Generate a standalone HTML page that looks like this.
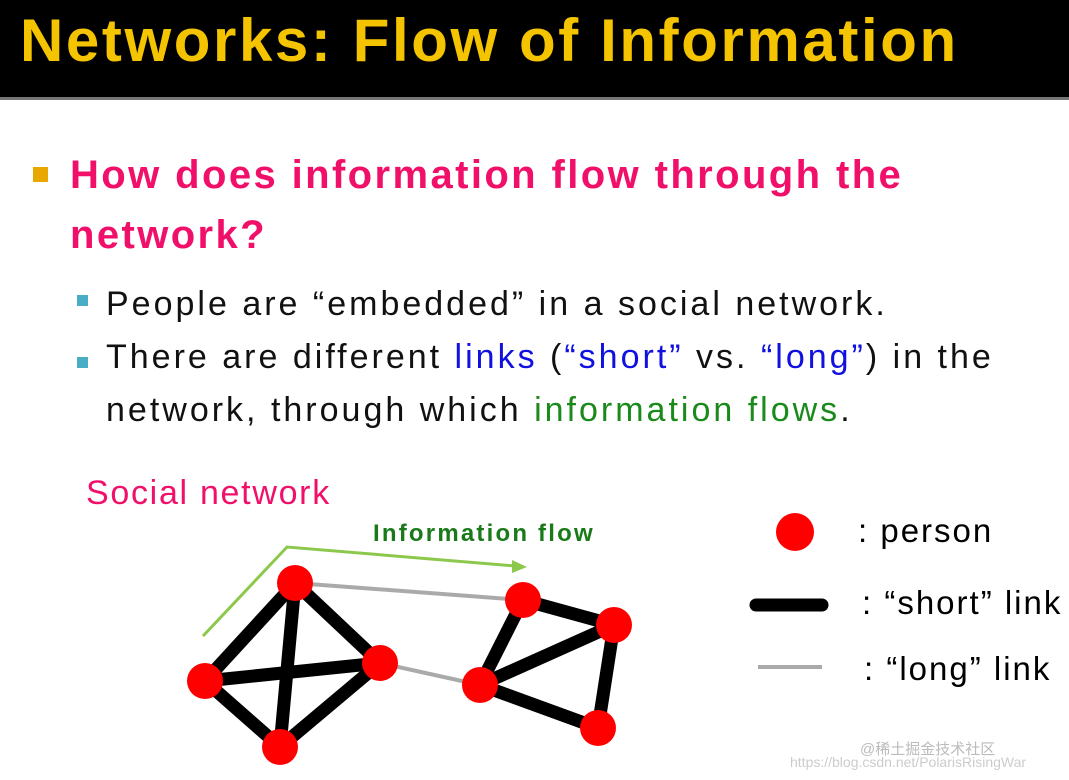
<!DOCTYPE html>
<html><head><style>
body{margin:0;width:1069px;height:780px;background:#fff;position:relative;overflow:hidden;font-family:"Liberation Sans",sans-serif}
.bar{position:absolute;left:0;top:0;width:1069px;height:97px;background:#000;border-bottom:3px solid #777}
.t{position:absolute;white-space:nowrap}
</style></head><body>
<div class="bar"></div>
<div class="t" style="left:20px;top:6px;font-size:60px;font-weight:bold;color:#f5c400;letter-spacing:2.6px">Networks: Flow of Information</div>
<div style="position:absolute;left:33px;top:167px;width:15px;height:15px;background:#e8a800"></div>
<div class="t" style="left:70px;top:145px;font-size:40px;font-weight:bold;color:#f0106a;line-height:60px;letter-spacing:2.4px">How does information flow through the<br>network?</div>
<div style="position:absolute;left:77px;top:295px;width:11px;height:11px;background:#4bacc6"></div>
<div style="position:absolute;left:77px;top:357px;width:11px;height:11px;background:#4bacc6"></div>
<div class="t" style="left:106px;top:278px;font-size:34px;color:#111;line-height:53px;letter-spacing:3px">People are “embedded” in a social network.<br>There are different <span style="color:#1010e0">links</span> (<span style="color:#1010e0">“short”</span> vs. <span style="color:#1010e0">“long”</span>) in the<br>network, through which <span style="color:#1a8a1a">information flows</span>.</div>
<div class="t" style="left:86px;top:474px;font-size:34px;color:#f0106a;letter-spacing:1.7px">Social network</div>
<div class="t" style="left:373px;top:520px;font-size:24px;font-weight:bold;color:#1a7a1a;letter-spacing:2.2px">Information flow</div>
<svg style="position:absolute;left:0;top:0" width="1069" height="780">
<polyline points="203,636 287,547 515,566" fill="none" stroke="#8cc84b" stroke-width="3"/>
<polygon points="527,567 512,560 512,573" fill="#8cc84b"/>
<g stroke="#aaa" stroke-width="4"><line x1="295" y1="583" x2="523" y2="600"/><line x1="380" y1="663" x2="480" y2="685"/></g>
<g stroke="#000" stroke-width="13">
<line x1="295" y1="583" x2="205" y2="681"/><line x1="295" y1="583" x2="380" y2="663"/><line x1="295" y1="583" x2="280" y2="747"/>
<line x1="205" y1="681" x2="380" y2="663"/><line x1="205" y1="681" x2="280" y2="747"/><line x1="380" y1="663" x2="280" y2="747"/>
<line x1="523" y1="600" x2="614" y2="625"/><line x1="523" y1="600" x2="480" y2="685"/><line x1="614" y1="625" x2="480" y2="685"/>
<line x1="614" y1="625" x2="598" y2="728"/><line x1="480" y1="685" x2="598" y2="728"/>
<line x1="756" y1="605" x2="822" y2="605" stroke-linecap="round"/>
</g>
<line x1="758" y1="667" x2="822" y2="667" stroke="#aaa" stroke-width="4"/>
<g fill="#f00">
<circle cx="295" cy="583" r="18"/><circle cx="205" cy="681" r="18"/><circle cx="380" cy="663" r="18"/><circle cx="280" cy="747" r="18"/>
<circle cx="523" cy="600" r="18"/><circle cx="614" cy="625" r="18"/><circle cx="480" cy="685" r="18"/><circle cx="598" cy="728" r="18"/>
<circle cx="795" cy="532" r="19"/>
</g>
</svg>
<div class="t" style="left:858px;top:512px;font-size:33px;color:#000;letter-spacing:2px">: person</div>
<div class="t" style="left:862px;top:584px;font-size:33px;color:#000;letter-spacing:2px">: “short” link</div>
<div class="t" style="left:864px;top:650px;font-size:33px;color:#000;letter-spacing:2px">: “long” link</div>
<div class="t" style="left:860px;top:738px;font-size:15px;color:#bbb">@稀土掘金技术社区</div>
<div class="t" style="left:790px;top:754px;font-size:14px;color:#ccc">https://blog.csdn.net/PolarisRisingWar</div>
</body></html>
